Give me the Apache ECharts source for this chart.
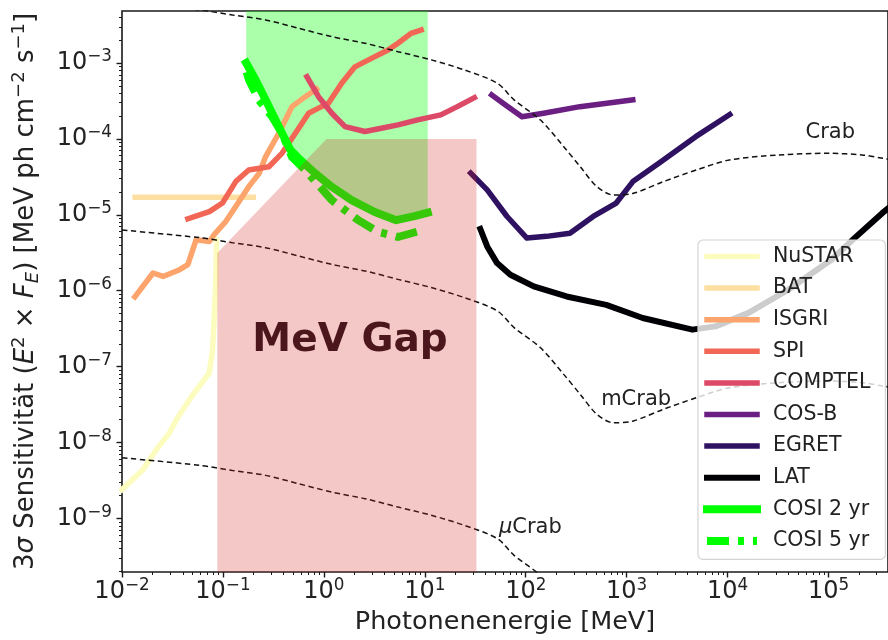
<!DOCTYPE html>
<html>
<head>
<meta charset="utf-8">
<script src="https://cdn.jsdelivr.net/npm/echarts@6/dist/echarts.min.js"></script>
<style>html,body{margin:0;padding:0;background:#fff}#c{width:888px;height:640px}</style>
</head>
<body>
<div id="c"></div>
<script>
// ---------- data (energy in MeV, sensitivity in MeV ph cm^-2 s^-1) ----------
const nustarE = [0.0100, 0.0162, 0.0219, 0.0297, 0.0345, 0.0467, 0.0733, 0.079, 0.082, 0.085, 0.0865];
const nustarF = [2.4e-9, 4.4e-9, 8.1e-9, 1.35e-8, 2.0e-8, 3.7e-8, 8.3e-8, 1.67e-7, 4.5e-7, 1.4e-6, 4.7e-6];

const batE = [0.0135, 0.2];
const batF = [1.7e-5, 1.7e-5];

const isgriE = [0.0134, 0.0203, 0.0255, 0.0372, 0.0449, 0.0543, 0.0733, 0.082, 0.107, 0.134, 0.18, 0.228, 0.265, 0.358, 0.483, 0.655, 0.845];
const isgriF = [8.3e-7, 1.71e-6, 1.54e-6, 1.89e-6, 2.2e-6, 4.7e-6, 4.45e-6, 5.5e-6, 8.2e-6, 1.29e-5, 2.35e-5, 3.5e-5, 5.85e-5, 1.19e-4, 2.66e-4, 3.6e-4, 4.55e-4];

const spiE = [0.0449, 0.0733, 0.099, 0.134, 0.18, 0.285, 0.386, 0.522, 0.706, 0.885, 1.11, 1.5, 2.03, 2.96, 4.32, 5.42, 7.3, 9.2];
const spiF = [8.85e-6, 1.1e-5, 1.43e-5, 2.74e-5, 3.9e-5, 4.3e-5, 6.5e-5, 1.19e-4, 2.18e-4, 2.54e-4, 2.95e-4, 5.4e-4, 8.9e-4, 1.15e-3, 1.48e-3, 1.82e-3, 2.46e-3, 2.72e-3];

const comptelE = [0.679, 0.885, 1.2, 1.62, 2.55, 3.71, 5.42, 8.5, 14.4, 21, 31];
const comptelF = [6.6e-4, 3.6e-4, 2.18e-4, 1.45e-4, 1.25e-4, 1.38e-4, 1.53e-4, 1.78e-4, 2.07e-4, 2.66e-4, 3.5e-4];

const cosbE = [46, 63, 91.8, 150, 344, 1150];
const cosbF = [3.8e-4, 2.8e-4, 1.96e-4, 2.18e-4, 2.66e-4, 3.26e-4];

const egretE = [28.5, 41.5, 65.3, 102.7, 161, 274, 466, 788, 1151, 2100, 4830, 10500];
const egretF = [3.54e-5, 2.13e-5, 9.5e-6, 4.93e-6, 5.2e-6, 5.7e-6, 9.5e-6, 1.43e-5, 2.74e-5, 4.8e-5, 1.07e-4, 2.1e-4];

const latE = [35.5, 41.5, 52, 70.4, 120, 254, 628, 1442, 4475, 7590, 16100, 39900, 106600, 180700, 340000, 500000];
const latF = [6.5e-6, 3.83e-6, 2.31e-6, 1.62e-6, 1.14e-6, 8.4e-7, 6.5e-7, 4.37e-7, 3.07e-7, 3.39e-7, 5.1e-7, 1.03e-6, 2.56e-6, 4.93e-6, 1.05e-5, 1.6e-5];

const cosi2E = [0.17, 0.211, 0.265, 0.358, 0.467, 0.563, 0.821, 1.197, 1.88, 3.19, 5.21, 7.9, 10.7];
const cosi2F = [1.0e-3, 5.97e-4, 3.25e-4, 1.445e-4, 7.1e-5, 5.53e-5, 3.51e-5, 2.34e-5, 1.56e-5, 1.09e-5, 8.5e-6, 9.6e-6, 1.07e-5];

const cosi5E = [0.172, 0.1815, 0.2275, 0.3076, 0.3856, 0.483, 0.655, 1.197, 2.19, 3.44, 5.42, 10.0];
const cosi5F = [7.6e-4, 5.97e-4, 3.25e-4, 1.96e-4, 1.18e-4, 5.8e-5, 3.87e-5, 1.56e-5, 8.5e-6, 5.95e-6, 5.1e-6, 6.4e-6];

const crabE  = [0.01, 0.0586, 0.1245, 0.265, 0.565, 1.2, 2.56, 5.44, 11.6, 24.7, 52.5, 76.7, 140, 238, 347, 507, 740, 1164, 2296, 4887, 10400, 32300, 100200, 213800, 346000, 500000];
const crabF  = [6.3e-3, 5.0e-3, 4.28e-3, 3.69e-3, 2.86e-3, 2.22e-3, 1.82e-3, 1.41e-3, 1.10e-3, 8.1e-4, 5.4e-4, 3.26e-4, 1.77e-4, 7.9e-5, 4.3e-5, 2.35e-5, 1.82e-5, 1.92e-5, 2.73e-5, 3.89e-5, 5.27e-5, 6.14e-5, 6.46e-5, 6.14e-5, 5.55e-5, 5.1e-5];
const mcrabF = [6.3e-6, 5.0e-6, 4.28e-6, 3.69e-6, 2.86e-6, 2.22e-6, 1.82e-6, 1.41e-6, 1.10e-6, 8.1e-7, 5.4e-7, 3.26e-7, 1.77e-7, 7.9e-8, 4.3e-8, 2.35e-8, 1.82e-8, 1.92e-8, 2.73e-8, 3.89e-8, 5.27e-8, 6.14e-8, 6.46e-8, 6.14e-8, 5.55e-8, 5.1e-8];
const ucrabF = [6.3e-9, 5.0e-9, 4.28e-9, 3.69e-9, 2.86e-9, 2.22e-9, 1.82e-9, 1.41e-9, 1.10e-9, 8.1e-10, 5.4e-10, 3.26e-10, 1.77e-10, 7.9e-11, 4.3e-11, 2.35e-11, 1.82e-11, 1.92e-11, 2.73e-11, 3.89e-11, 5.27e-11, 6.14e-11, 6.46e-11, 6.14e-11, 5.55e-11, 5.1e-11];

// MeV gap polygon and COSI band (fill up to the top of the plot)
const gapE = [0.088, 0.088, 1.06, 32.5, 32.5];
const gapF = [1e-11, 3.14e-6, 1e-4, 1e-4, 1e-11];
const bandTopF = 1e-1;

// annotations
const notes = [
  { text: 'Crab',  E: 1.04e5, F: 1.23e-4 },
  { text: 'mCrab', E: 1240,   F: 3.69e-8 },
  { text: '{mu|μ}Crab', E: 111, F: 7.59e-10 }
];
const gapLabel = { text: 'MeV Gap', E: 1.815, F: 2.17e-7 };

// axes (decades)
const xTicks = [-2, -1, 0, 1, 2, 3, 4, 5];
const yTicks = [-9, -8, -7, -6, -5, -4, -3];
const X_MIN = -2, X_MAX = 5.589;
const Y_MIN = -9.706, Y_MAX = -2.315;

// ---------- helpers ----------
const lg = Math.log10;
const pts = (E, F) => E.map((e, i) => [lg(e), lg(F[i])]);
const minor = (lo, hi, a, b) => {
  const out = [];
  for (let d = lo; d <= hi; d++) for (let k = 2; k <= 9; k++) {
    const v = d + lg(k);
    if (v > a && v < b) out.push(v);
  }
  return out;
};
const FONT = '"DejaVu Sans", sans-serif';
const TXT = '#222';
const supTxt = v => (v < 0 ? '\u2212' + (-v) : '' + v);
const tickRich = {
  b: { fontSize: 24, lineHeight: 29, fontFamily: FONT, color: TXT },
  s: { fontSize: 16.8, lineHeight: 17, verticalAlign: 'top', fontFamily: FONT, color: TXT }
};
const tickFmt = v => '{b|10}{s|' + supTxt(Math.round(v)) + '}';
const noLine = { show: false, onZero: false };

function lineSeries(name, E, F, color, width, extra) {
  return Object.assign({
    name, type: 'line', data: pts(E, F), symbol: 'none', z: 2, clip: true,
    lineStyle: { color, width, cap: 'square', join: 'round' },
    itemStyle: { color },
    emphasis: { disabled: true }, silent: true, animation: false
  }, extra || {});
}
function dashSeries(E, F) {
  return {
    type: 'line', data: pts(E, F), symbol: 'none', z: 2, clip: true,
    smooth: 0.3,
    lineStyle: { color: '#111', width: 1.5, type: [5.5, 3.5] },
    emphasis: { disabled: true }, silent: true, animation: false
  };
}
function polySeries(E, F, fill, z) {
  return {
    type: 'custom', z, clip: true, silent: true, animation: false,
    data: [[lg(E[0]), lg(F[0])]],
    renderItem: (params, api) => ({
      type: 'polygon',
      shape: { points: E.map((e, i) => api.coord([lg(e), lg(F[i])])) },
      style: { fill }
    })
  };
}

const bandE = cosi2E.concat([cosi2E[cosi2E.length - 1], cosi2E[0]]);
const bandF = cosi2F.concat([bandTopF, bandTopF]);

const chart = echarts.init(document.getElementById('c'), null, { renderer: 'canvas' });
chart.setOption({
  animation: false,
  backgroundColor: '#fff',
  grid: { left: 122, top: 11, width: 771, height: 561, show: true, borderColor: '#1a1a1a', borderWidth: 1.6, backgroundColor: 'transparent' },
  xAxis: [{
    type: 'value', min: X_MIN, max: X_MAX, position: 'bottom',
    axisLine: noLine, splitLine: { show: false },
    axisTick: { show: true, inside: false, length: 5.5, customValues: xTicks, lineStyle: { color: '#1a1a1a', width: 1.4 } },
    axisLabel: { customValues: xTicks, formatter: tickFmt, rich: tickRich, margin: 5 },
    name: 'Photonenenergie [MeV]', nameLocation: 'middle', nameGap: 37,
    nameTextStyle: { fontSize: 25.5, fontFamily: FONT, color: TXT }
  }, {
    type: 'value', min: X_MIN, max: X_MAX, position: 'bottom',
    axisLine: noLine, splitLine: { show: false }, axisLabel: { show: false },
    axisTick: { show: true, inside: false, length: 3, customValues: minor(-2, 5, X_MIN, X_MAX), lineStyle: { color: '#1a1a1a', width: 1 } }
  }],
  yAxis: [{
    type: 'value', min: Y_MIN, max: Y_MAX, position: 'left',
    axisLine: noLine, splitLine: { show: false },
    axisTick: { show: true, inside: false, length: 5.5, customValues: yTicks, lineStyle: { color: '#1a1a1a', width: 1.4 } },
    axisLabel: { customValues: yTicks, formatter: tickFmt, rich: tickRich, margin: 10 },
    name: '3{it|σ} Sensitivität ({it|E}{sup|2} × {it|F}{sub|E}) [MeV ph cm{sup|\u22122} s{sup|\u22121}]',
    nameLocation: 'middle', nameRotate: 90, nameGap: 80,
    nameTextStyle: {
      fontSize: 26, lineHeight: 32, fontFamily: FONT, color: TXT,
      rich: {
        it: { fontSize: 26, fontStyle: 'italic', fontFamily: FONT, color: TXT },
        sup: { fontSize: 18, lineHeight: 18, verticalAlign: 'top', fontFamily: FONT, color: TXT },
        sub: { fontSize: 18, lineHeight: 18, verticalAlign: 'bottom', fontStyle: 'italic', fontFamily: FONT, color: TXT }
      }
    }
  }, {
    type: 'value', min: Y_MIN, max: Y_MAX, position: 'left',
    axisLine: noLine, splitLine: { show: false }, axisLabel: { show: false },
    axisTick: { show: true, inside: false, length: 3, customValues: minor(-10, -3, Y_MIN, Y_MAX), lineStyle: { color: '#1a1a1a', width: 1 } }
  }],
  legend: {
    orient: 'vertical', left: 698, top: 240,
    padding: [6, 15, 8, 5], itemWidth: 50, itemHeight: 14, itemGap: 10.6,
    backgroundColor: 'rgba(255,255,255,0.8)', borderColor: '#d4d4d4', borderWidth: 1.2, borderRadius: 5,
    textStyle: { fontSize: 20.5, lineHeight: 21, fontFamily: FONT, color: TXT, padding: [0, 0, 0, 11] },
    itemStyle: { opacity: 0 },
    lineStyle: { width: 'inherit' },
    selectedMode: false,
    data: ['NuSTAR', 'BAT', 'ISGRI', 'SPI', 'COMPTEL', 'COS-B', 'EGRET', 'LAT', 'COSI 2 yr', 'COSI 5 yr']
  },
  series: [
    polySeries(bandE, bandF, 'rgba(0,255,0,0.33)', 1),
    lineSeries('NuSTAR', nustarE, nustarF, '#fbfcbe', 5.5),
    lineSeries('BAT', batE, batF, '#fde0a1', 5.5),
    lineSeries('ISGRI', isgriE, isgriF, '#fca46b', 5.5),
    lineSeries('SPI', spiE, spiF, '#f26656', 5.5),
    lineSeries('COMPTEL', comptelE, comptelF, '#dc4a67', 5.5),
    lineSeries('COS-B', cosbE, cosbF, '#6c1f82', 5.5),
    lineSeries('EGRET', egretE, egretF, '#2f1162', 5.5),
    lineSeries('LAT', latE, latF, '#000004', 6),
    lineSeries('COSI 2 yr', cosi2E, cosi2F, '#00ff00', 8),
    lineSeries('COSI 5 yr', cosi5E, cosi5F, '#00ff00', 8, {
      lineStyle: { color: '#00ff00', width: 8, type: [22, 9, 6, 9], cap: 'butt', join: 'round' }
    }),
    dashSeries(crabE, crabF),
    dashSeries(crabE, mcrabF),
    dashSeries(crabE, ucrabF),
    polySeries(gapE, gapF, 'rgba(214,39,40,0.255)', 3),
    {
      type: 'scatter', z: 5, silent: true, animation: false, symbolSize: 0,
      itemStyle: { opacity: 1 },
      data: notes.map(n => ({ value: [lg(n.E), lg(n.F)], label: { formatter: n.text } })),
      label: {
        show: true, position: 'inside', align: 'center', verticalAlign: 'middle', opacity: 1,
        fontSize: 21, fontFamily: FONT, color: TXT, textBorderWidth: 0,
        rich: { mu: { fontSize: 21, fontStyle: 'italic', fontFamily: FONT, color: TXT } }
      }
    },
    {
      type: 'scatter', z: 5, silent: true, animation: false, symbolSize: 0,
      itemStyle: { opacity: 1 },
      data: [{ value: [lg(gapLabel.E), lg(gapLabel.F)] }],
      label: {
        show: true, position: 'inside', formatter: gapLabel.text, align: 'center', verticalAlign: 'middle', opacity: 1,
        fontSize: 39, fontWeight: 'bold', fontFamily: FONT, color: '#4b161c', textBorderWidth: 0
      }
    }
  ]
});
</script>
</body>
</html>
